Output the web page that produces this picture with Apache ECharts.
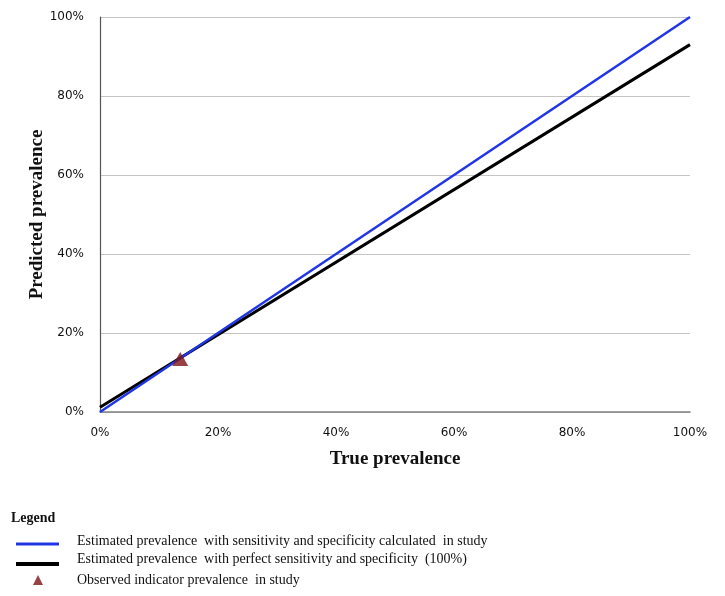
<!DOCTYPE html>
<html><head><meta charset="utf-8">
<script src="https://cdn.jsdelivr.net/npm/echarts@6/dist/echarts.min.js"></script>
<style>html,body{margin:0;padding:0;background:#fff}#c{width:725px;height:596px}</style>
</head><body><div id="c"></div>
<script>
const xTicks = [0, 20, 40, 60, 80, 100];
const blueLine = [[0, 0], [100, 100]];
const blackLine = [[0, 1.2], [100, 93]];
const observed = [[13.6, 13.4]];
const names = [
  'Estimated prevalence  with sensitivity and specificity calculated  in study',
  'Estimated prevalence  with perfect sensitivity and specificity  (100%)',
  'Observed indicator prevalence  in study'
];
const serif = '"Liberation Serif","Times New Roman",serif';
const chart = echarts.init(document.getElementById('c'));
function legendStyle(padLeft, spacer) {
  return {
    fontFamily: serif, fontSize: 14, color: '#111',
    rich: {
      t: {fontFamily: serif, fontSize: 14, color: '#111', lineHeight: 16, padding: [0, 0, 0, padLeft]},
      s: {height: spacer, lineHeight: spacer, fontSize: 1}
    }
  };
}
chart.setOption({
  animation: false,
  grid: {left: 100, right: 35, top: 17, bottom: 184},
  xAxis: {
    type: 'value', min: 0, max: 100, interval: 20,
    name: 'True prevalence', nameLocation: 'middle', nameGap: 38, nameMoveOverlap: false,
    nameTextStyle: {fontFamily: serif, fontWeight: 'bold', fontSize: 19, color: '#111'},
    axisLine: {show: true, lineStyle: {color: '#808080', width: 1.5}},
    axisTick: {show: false},
    splitLine: {show: false},
    axisLabel: {formatter: v => v + '%', margin: 15, fontFamily: '"DejaVu Sans",sans-serif', fontSize: 12, color: '#111'}
  },
  yAxis: {
    type: 'value', min: 0, max: 100, interval: 20,
    name: 'Predicted prevalence', nameLocation: 'middle', nameGap: 53, nameMoveOverlap: false,
    nameTextStyle: {fontFamily: serif, fontWeight: 'bold', fontSize: 19, color: '#111'},
    axisLine: {show: true, lineStyle: {color: '#555', width: 1.2}},
    axisTick: {show: false},
    splitLine: {show: true, lineStyle: {color: '#c4c4c4', width: 1}},
    axisLabel: {formatter: v => v + '%', margin: 16, fontFamily: '"DejaVu Sans",sans-serif', fontSize: 12, color: '#111'}
  },
  legend: [
    {data: [{name: names[0], icon: 'rect'}], left: 11, top: 529, itemWidth: 43, itemHeight: 3,
     formatter: n => '{t|' + n + '}\n{s|}', textStyle: legendStyle(13, 6)},
    {data: [{name: names[1], icon: 'rect'}], left: 11, top: 547, itemWidth: 43, itemHeight: 4,
     formatter: n => '{t|' + n + '}\n{s|}', textStyle: legendStyle(13, 10)},
    {data: [{name: names[2], icon: 'triangle'}], left: 28, top: 568, itemWidth: 10, itemHeight: 10,
     textStyle: {fontFamily: serif, fontSize: 14, color: '#111', padding: [0, 0, 0, 29]}}
  ],
  title: {text: 'Legend', left: 11, top: 511, padding: 0, textStyle: {fontFamily: serif, fontWeight: 'bold', fontSize: 14, color: '#111'}},
  series: [
    {name: names[1], type: 'line', data: blackLine, symbol: 'none', lineStyle: {color: '#000', width: 3}, itemStyle: {color: '#000'}, z: 2},
    {name: names[0], type: 'line', data: blueLine, symbol: 'none', lineStyle: {color: '#1f35e6', width: 2.5}, itemStyle: {color: '#1f35e6'}, z: 3},
    {name: names[2], type: 'scatter', data: observed, symbol: 'triangle', symbolSize: [16, 14], itemStyle: {color: '#7e1414'}, z: 4}
  ]
});
</script></body></html>
